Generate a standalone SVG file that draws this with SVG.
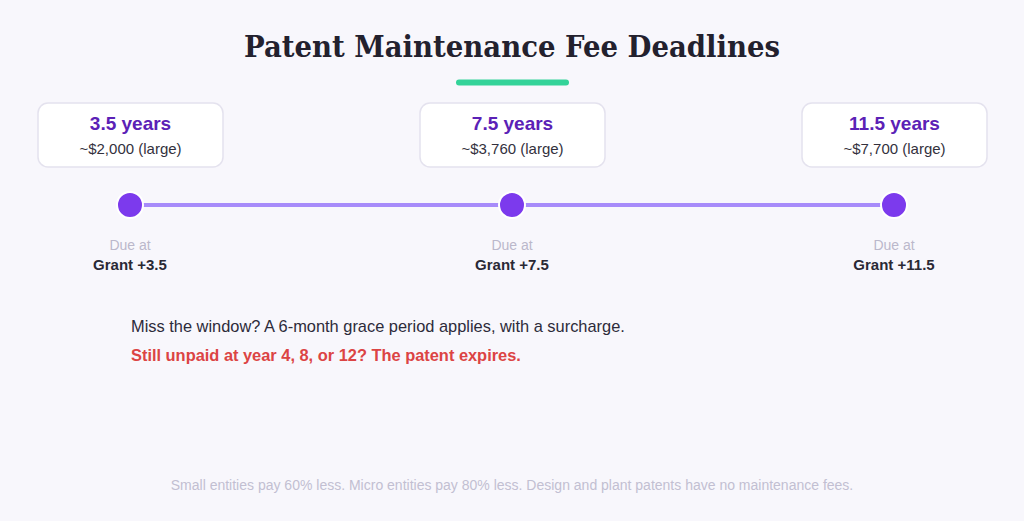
<svg xmlns="http://www.w3.org/2000/svg" width="1024" height="521" viewBox="0 0 1024 521">
<style>
.card{fill:#ffffff;stroke:#e4e2ee;stroke-width:1.5}
.yr{font-family:"Liberation Sans",Arial,sans-serif;font-weight:700;font-size:19px;fill:#5b21b6;text-anchor:middle}
.fee{font-family:"Liberation Sans",Arial,sans-serif;font-size:15px;fill:#33313d;text-anchor:middle}
.due{font-family:"Liberation Sans",Arial,sans-serif;font-size:14px;fill:#bbb8cb;text-anchor:middle}
.grant{font-family:"Liberation Sans",Arial,sans-serif;font-weight:700;font-size:15px;fill:#2a2935;text-anchor:middle}
.dot{fill:#7c3aed;stroke:#ffffff;stroke-width:2}
</style>
<rect width="1024" height="521" fill="#f8f7fc"/>
<text x="512" y="57" font-family="'DejaVu Serif','Liberation Serif',serif" font-weight="700" font-size="29" fill="#23212e" text-anchor="middle" textLength="536" lengthAdjust="spacingAndGlyphs">Patent Maintenance Fee Deadlines</text>
<rect x="456" y="79.5" width="113" height="6" rx="3" fill="#34d399"/>
<g id="connectors">
<line x1="130" y1="205" x2="512" y2="205" stroke="#a78bfa" stroke-width="4"/>
<line x1="512" y1="205" x2="894" y2="205" stroke="#a78bfa" stroke-width="4"/>
</g>
<g id="node1">
<rect class="card" x="38" y="103" width="185" height="64" rx="10"/>
<text class="yr" x="130.5" y="129.5">3.5 years</text>
<text class="fee" x="130.5" y="153.5">~$2,000 (large)</text>
<circle class="dot" cx="130" cy="205" r="13"/>
<text class="due" x="130" y="250">Due at</text>
<text class="grant" x="130" y="269.5">Grant +3.5</text>
</g>
<g id="node2">
<rect class="card" x="420" y="103" width="185" height="64" rx="10"/>
<text class="yr" x="512.5" y="129.5">7.5 years</text>
<text class="fee" x="512.5" y="153.5">~$3,760 (large)</text>
<circle class="dot" cx="512" cy="205" r="13"/>
<text class="due" x="512" y="250">Due at</text>
<text class="grant" x="512" y="269.5">Grant +7.5</text>
</g>
<g id="node3">
<rect class="card" x="802" y="103" width="185" height="64" rx="10"/>
<text class="yr" x="894.5" y="129.5">11.5 years</text>
<text class="fee" x="894.5" y="153.5">~$7,700 (large)</text>
<circle class="dot" cx="894" cy="205" r="13"/>
<text class="due" x="894" y="250">Due at</text>
<text class="grant" x="894" y="269.5">Grant +11.5</text>
</g>
<text x="131" y="332" font-family="'Liberation Sans',Arial,sans-serif" font-size="16.4" fill="#2d2b3a">Miss the window? A 6-month grace period applies, with a surcharge.</text>
<text x="131" y="361" font-family="'Liberation Sans',Arial,sans-serif" font-size="16.4" font-weight="700" fill="#dc4444">Still unpaid at year 4, 8, or 12? The patent expires.</text>
<text x="512" y="490" font-family="'Liberation Sans',Arial,sans-serif" font-size="14" fill="#c2bfd2" text-anchor="middle">Small entities pay 60% less. Micro entities pay 80% less. Design and plant patents have no maintenance fees.</text>
</svg>
